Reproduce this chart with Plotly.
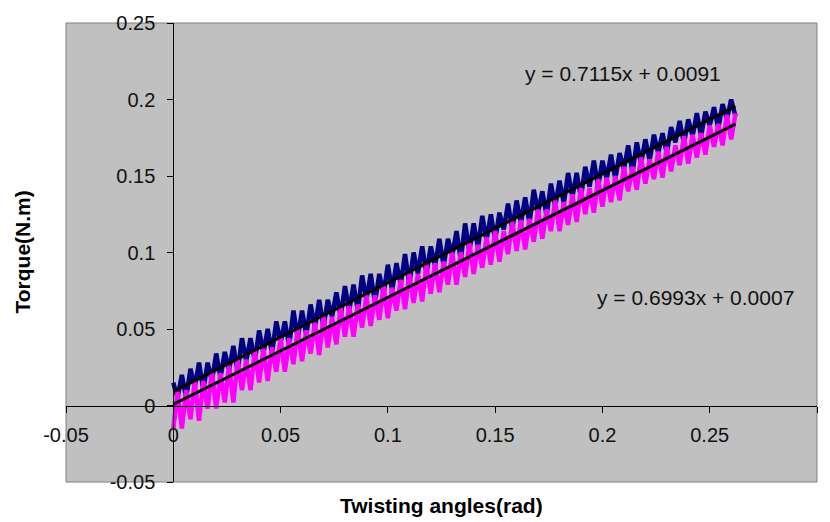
import plotly.graph_objects as go

# ---------------- data ----------------
# twisting angle samples (rad)
x_vals = [round(0.002 * k, 3) for k in range(132)]

navy_y = [0.015, 0.005, 0.020, 0.005, 0.024, 0.012, 0.028, 0.010, 0.028, 0.016,
          0.034, 0.018, 0.035, 0.023, 0.039, 0.022, 0.044, 0.029, 0.044, 0.029,
          0.049, 0.034, 0.050, 0.034, 0.055, 0.041, 0.055, 0.039, 0.062, 0.044,
          0.062, 0.046, 0.066, 0.051, 0.069, 0.051, 0.069, 0.058, 0.074, 0.058,
          0.078, 0.062, 0.079, 0.062, 0.085, 0.069, 0.086, 0.067, 0.086, 0.073,
          0.092, 0.075, 0.093, 0.079, 0.099, 0.079, 0.100, 0.086, 0.104, 0.086,
          0.104, 0.091, 0.109, 0.091, 0.109, 0.098, 0.114, 0.095, 0.119, 0.101,
          0.119, 0.103, 0.124, 0.108, 0.125, 0.108, 0.126, 0.115, 0.132, 0.115,
          0.134, 0.119, 0.136, 0.119, 0.141, 0.126, 0.140, 0.124, 0.145, 0.130,
          0.147, 0.132, 0.152, 0.136, 0.152, 0.136, 0.156, 0.143, 0.160, 0.143,
          0.160, 0.148, 0.164, 0.148, 0.165, 0.154, 0.170, 0.152, 0.172, 0.158,
          0.174, 0.160, 0.177, 0.165, 0.178, 0.165, 0.182, 0.172, 0.186, 0.171,
          0.187, 0.176, 0.191, 0.176, 0.192, 0.183, 0.195, 0.181, 0.197, 0.187,
          0.200, 0.189]

magenta_y = [-0.015, 0.009, -0.015, 0.010, -0.009, 0.016, -0.010, 0.016, -0.002, 0.022,
             -0.002, 0.021, 0.002, 0.026, 0.002, 0.030, 0.010, 0.030, 0.010, 0.036,
             0.015, 0.037, 0.016, 0.038, 0.022, 0.044, 0.022, 0.044, 0.027, 0.050,
             0.029, 0.049, 0.034, 0.054, 0.033, 0.058, 0.038, 0.058, 0.040, 0.064,
             0.045, 0.065, 0.045, 0.066, 0.051, 0.072, 0.052, 0.072, 0.056, 0.078,
             0.057, 0.077, 0.062, 0.082, 0.063, 0.086, 0.067, 0.086, 0.068, 0.092,
             0.073, 0.093, 0.074, 0.094, 0.079, 0.100, 0.079, 0.100, 0.084, 0.106,
             0.086, 0.105, 0.090, 0.110, 0.092, 0.114, 0.094, 0.114, 0.099, 0.120,
             0.101, 0.121, 0.102, 0.122, 0.107, 0.128, 0.109, 0.128, 0.114, 0.134,
             0.114, 0.133, 0.118, 0.138, 0.120, 0.142, 0.125, 0.142, 0.126, 0.148,
             0.130, 0.149, 0.133, 0.150, 0.134, 0.156, 0.140, 0.156, 0.141, 0.162,
             0.145, 0.161, 0.148, 0.166, 0.149, 0.169, 0.153, 0.170, 0.157, 0.176,
             0.158, 0.177, 0.162, 0.178, 0.164, 0.183, 0.169, 0.184, 0.170, 0.190,
             0.174, 0.191]

# trendline equations (as printed on the chart)
navy_slope, navy_intercept = 0.7115, 0.0091
magenta_slope, magenta_intercept = 0.6993, 0.0007
trend_x = [0.0, 0.262]

x_ticks = [-0.05, 0, 0.05, 0.1, 0.15, 0.2, 0.25, 0.3]
x_tick_labels = ["-0.05", "0", "0.05", "0.1", "0.15", "0.2", "0.25", "0.3"]
y_ticks = [-0.05, 0, 0.05, 0.1, 0.15, 0.2, 0.25]
y_tick_labels = ["-0.05", "0", "0.05", "0.1", "0.15", "0.2", "0.25"]

x_range = [-0.05, 0.3]
y_range = [-0.05, 0.25]

# ---------------- figure ----------------
FONT = "Liberation Sans, Arial, sans-serif"

fig = go.Figure()
fig.add_trace(go.Scatter(x=x_vals, y=navy_y, mode="lines",
                         line=dict(color="#000080", width=4.5), hoverinfo="skip"))
fig.add_trace(go.Scatter(x=x_vals, y=magenta_y, mode="lines",
                         line=dict(color="#FF00FF", width=4.5), hoverinfo="skip"))
fig.add_trace(go.Scatter(x=trend_x, y=[navy_slope * v + navy_intercept for v in trend_x],
                         mode="lines", line=dict(color="black", width=3)))
fig.add_trace(go.Scatter(x=trend_x, y=[magenta_slope * v + magenta_intercept for v in trend_x],
                         mode="lines", line=dict(color="black", width=3)))

x_axis_pos = (0 - y_range[0]) / (y_range[1] - y_range[0])
y_axis_pos = (0 - x_range[0]) / (x_range[1] - x_range[0])

fig.update_layout(
    width=830, height=522,
    margin=dict(l=66, r=13, t=15, b=40),
    paper_bgcolor="white",
    plot_bgcolor="#C0C0C0",
    showlegend=False,
    font=dict(family=FONT, size=20, color="black"),
    xaxis=dict(range=x_range, tickvals=x_ticks, ticktext=x_tick_labels,
               showgrid=False, zeroline=False, showline=True, linecolor="black", linewidth=1,
               ticks="outside", ticklen=6, tickcolor="black",
               anchor="free", position=x_axis_pos, ticklabelstandoff=5,
               tickfont=dict(family=FONT, size=20, color="#111111")),
    yaxis=dict(range=y_range, tickvals=y_ticks, ticktext=y_tick_labels,
               showgrid=False, zeroline=False, showline=True, linecolor="black", linewidth=1,
               ticks="outside", ticklen=6, tickcolor="black",
               anchor="free", position=y_axis_pos, ticklabelstandoff=8,
               tickfont=dict(family=FONT, size=20, color="#111111")),
    shapes=[dict(type="rect", xref="paper", yref="paper", x0=0, x1=1, y0=0, y1=1,
                 line=dict(color="#808080", width=1), layer="below")],
    annotations=[
        dict(text="y = 0.7115x + 0.0091", x=0.2097, y=0.2167, xref="x", yref="y",
             showarrow=False, font=dict(family=FONT, size=21, color="#111111")),
        dict(text="y = 0.6993x + 0.0007", x=0.2432, y=0.0705, xref="x", yref="y",
             showarrow=False, font=dict(family=FONT, size=21, color="#111111")),
        dict(text="<b>Twisting angles(rad)</b>", x=0.5, y=0, xref="paper", yref="paper",
             yshift=-23, yanchor="middle", showarrow=False,
             font=dict(family=FONT, size=21, color="black")),
        dict(text="<b>Torque(N.m)</b>", x=0, y=0.5, xref="paper", yref="paper",
             xshift=-44, xanchor="center", yanchor="middle", textangle=-90, showarrow=False,
             font=dict(family=FONT, size=21, color="black")),
    ],
)

fig.write_html("out.html")
